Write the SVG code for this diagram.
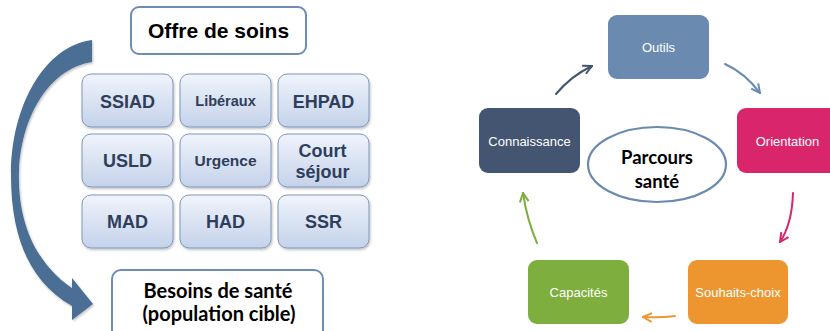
<svg xmlns="http://www.w3.org/2000/svg" width="830" height="331" viewBox="0 0 830 331">
<style>
.cell{fill:url(#cellGrad);stroke:#7e96bc;stroke-width:1}
.ct{font-family:"Liberation Sans",Arial,sans-serif;font-weight:bold;fill:#2e3e5b;text-anchor:middle}
.hb{fill:#ffffff;stroke:#6e8cb4;stroke-width:2}
.ht{font-family:Lato,"Open Sans",sans-serif;font-weight:bold;fill:#000;text-anchor:middle}
.nt{font-family:"Liberation Sans",Arial,sans-serif;font-size:13px;fill:#ffffff;text-anchor:middle}
.conn{fill:none;stroke-width:2;stroke-linecap:round}
</style>
<defs>
<linearGradient id="cellGrad" x1="0" y1="0" x2="0" y2="1">
<stop offset="0" stop-color="#f0f4fb"/>
<stop offset="1" stop-color="#c4d2ea"/>
</linearGradient>
<filter id="sh" x="-10%" y="-10%" width="130%" height="130%">
<feDropShadow dx="1" dy="1.5" stdDeviation="1.2" flood-color="#000" flood-opacity="0.25"/>
</filter>
<marker id="mNavy" viewBox="0 0 10 10" refX="9" refY="5" markerWidth="11" markerHeight="11" markerUnits="userSpaceOnUse" orient="auto"><path d="M1,1 L9,5 L1,9" fill="none" stroke="#435570" stroke-width="1.8"/></marker>
<marker id="mBlue" viewBox="0 0 10 10" refX="9" refY="5" markerWidth="11" markerHeight="11" markerUnits="userSpaceOnUse" orient="auto"><path d="M1,1 L9,5 L1,9" fill="none" stroke="#6a8aaf" stroke-width="1.8"/></marker>
<marker id="mPink" viewBox="0 0 10 10" refX="9" refY="5" markerWidth="11" markerHeight="11" markerUnits="userSpaceOnUse" orient="auto"><path d="M1,1 L9,5 L1,9" fill="none" stroke="#d9256a" stroke-width="1.8"/></marker>
<marker id="mOrange" viewBox="0 0 10 10" refX="9" refY="5" markerWidth="11" markerHeight="11" markerUnits="userSpaceOnUse" orient="auto"><path d="M1,1 L9,5 L1,9" fill="none" stroke="#ed9630" stroke-width="1.8"/></marker>
<marker id="mGreen" viewBox="0 0 10 10" refX="9" refY="5" markerWidth="11" markerHeight="11" markerUnits="userSpaceOnUse" orient="auto"><path d="M1,1 L9,5 L1,9" fill="none" stroke="#7eae3e" stroke-width="1.8"/></marker>
</defs>
<rect width="830" height="331" fill="#ffffff"/>

<!-- left part -->
<g id="bigArrow">
<path d="M92,40 L92,62 C52,68 22,112 19,170 C17,225 38,265 72,288 L72,278 L93,304 L72,320 L72,306 C30,282 11,238 11,175 C11,105 45,46 92,40 Z" fill="#4b6e95" filter="url(#sh)"/>
</g>
<g id="offre">
<rect class="hb" x="131" y="7" width="175" height="47" rx="8"/>
<text class="ct" x="218.5" y="38" font-size="21" style="fill:#000">Offre de soins</text>
</g>
<g id="besoins">
<rect class="hb" x="112" y="270" width="211" height="70" rx="9"/>
<text class="ht" x="218" y="298" font-size="20">Besoins de santé</text>
<text class="ht" x="219" y="321" font-size="20">(population cible)</text>
</g>
<g id="ssiad"><rect class="cell" x="82" y="74" width="91" height="53" rx="9" filter="url(#sh)"/><text class="ct" x="127.5" y="108" font-size="18">SSIAD</text></g>
<g id="liberaux"><rect class="cell" x="180" y="74" width="91" height="53" rx="9" filter="url(#sh)"/><text class="ct" x="225.5" y="106" font-size="14.5">Libéraux</text></g>
<g id="ehpad"><rect class="cell" x="278" y="74" width="91" height="53" rx="9" filter="url(#sh)"/><text class="ct" x="323.5" y="108" font-size="18">EHPAD</text></g>
<g id="usld"><rect class="cell" x="82" y="134" width="91" height="53" rx="9" filter="url(#sh)"/><text class="ct" x="127.5" y="167" font-size="18">USLD</text></g>
<g id="urgence"><rect class="cell" x="180" y="134" width="91" height="53" rx="9" filter="url(#sh)"/><text class="ct" x="225.5" y="166" font-size="15.5">Urgence</text></g>
<g id="courtSejour"><rect class="cell" x="278" y="134" width="91" height="53" rx="9" filter="url(#sh)"/><text class="ct" x="322.5" y="157" font-size="18">Court</text><text class="ct" x="322.5" y="178" font-size="18">séjour</text></g>
<g id="mad"><rect class="cell" x="82" y="195" width="91" height="53" rx="9" filter="url(#sh)"/><text class="ct" x="127.5" y="228" font-size="18">MAD</text></g>
<g id="had"><rect class="cell" x="180" y="195" width="91" height="53" rx="9" filter="url(#sh)"/><text class="ct" x="225.5" y="228" font-size="18">HAD</text></g>
<g id="ssr"><rect class="cell" x="278" y="195" width="91" height="53" rx="9" filter="url(#sh)"/><text class="ct" x="323.5" y="228" font-size="18">SSR</text></g>

<!-- right part -->
<g id="connectors">
<path class="conn" d="M556,94 Q571,76 592,66" stroke="#435570" marker-end="url(#mNavy)"/>
<path class="conn" d="M725,64 Q745,73 760,93" stroke="#6a8aaf" marker-end="url(#mBlue)"/>
<path class="conn" d="M793,193 Q792,224 780,242" stroke="#d9256a" marker-end="url(#mPink)"/>
<path class="conn" d="M675,316 Q660,318 643,317" stroke="#ed9630" marker-end="url(#mOrange)"/>
<path class="conn" d="M537,243 Q527,220 523,193" stroke="#7eae3e" marker-end="url(#mGreen)"/>
</g>
<g id="outils"><rect x="608" y="15" width="101" height="64" rx="9" fill="#6a8aaf"/><text class="nt" x="658.5" y="52">Outils</text></g>
<g id="connaissance"><rect x="479" y="108" width="101" height="65" rx="9" fill="#435570"/><text class="nt" x="529.5" y="146">Connaissance</text></g>
<g id="orientation"><rect x="737" y="108" width="101" height="65" rx="9" fill="#d9256a"/><text class="nt" x="787.5" y="146">Orientation</text></g>
<g id="souhaits"><rect x="688" y="260" width="100" height="64" rx="9" fill="#ed9630"/><text class="nt" x="738" y="297">Souhaits-choix</text></g>
<g id="capacites"><rect x="528" y="260" width="101" height="64" rx="9" fill="#7eae3e"/><text class="nt" x="578.5" y="297">Capacités</text></g>
<g id="parcours">
<ellipse cx="657" cy="164.5" rx="69" ry="37.5" fill="#ffffff" stroke="#6a8aaf" stroke-width="2.2"/>
<text class="ht" x="657" y="164" font-size="18.5">Parcours</text>
<text class="ht" x="657" y="188" font-size="18.5">santé</text>
</g>
</svg>
